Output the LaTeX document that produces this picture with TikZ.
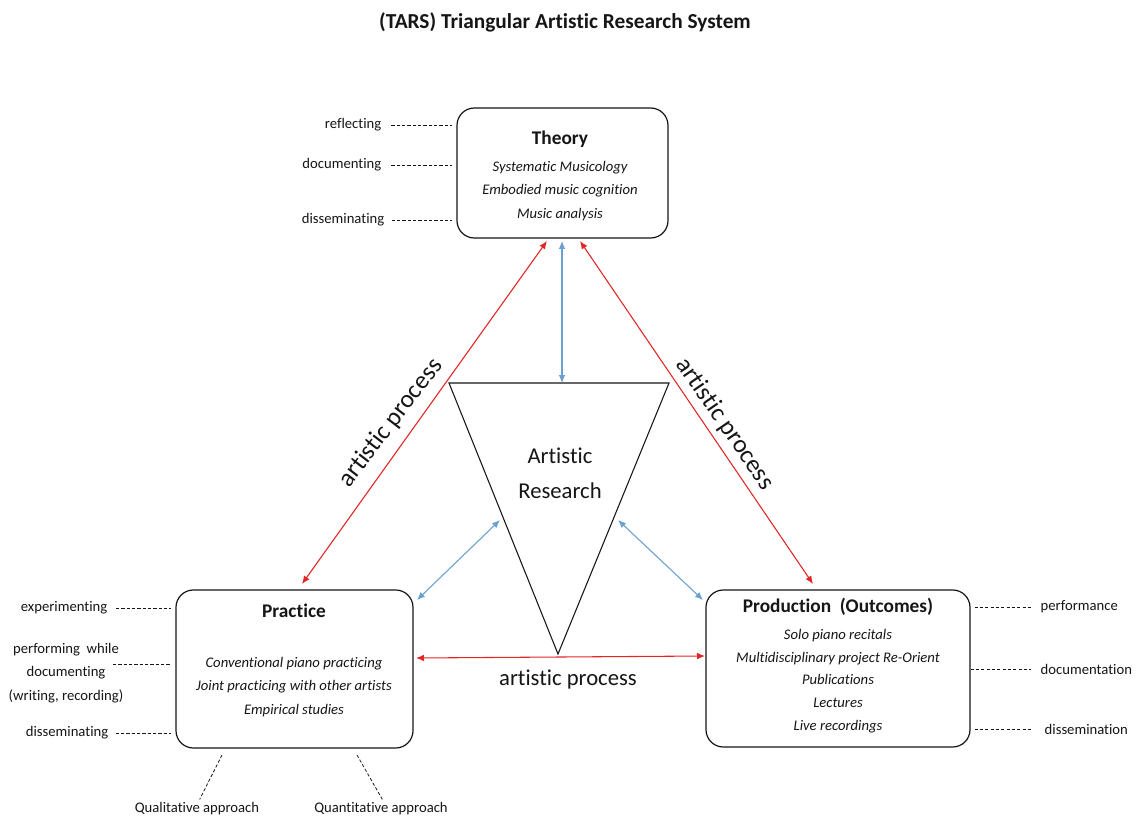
\documentclass[tikz,border=0pt]{standalone}
\usepackage{fontspec}
\setmainfont{Carlito}[Ligatures={NoCommon}]
\usetikzlibrary{arrows.meta}
\definecolor{procred}{RGB}{226,38,38}
\definecolor{linkblue}{RGB}{108,160,206}
\definecolor{inkgray}{RGB}{22,22,22}
\tikzset{
  boxnode/.style={draw=inkgray, line width=0.9pt, rounded corners=13pt, inner sep=0pt},
  headtext/.style={font=\fontsize{14.5}{17}\selectfont\bfseries, text=inkgray},
  itemtext/.style={font=\fontsize{11}{17.4}\selectfont\itshape, text=inkgray, align=center},
  sidetext/.style={font=\fontsize{11}{17.4}\selectfont, text=inkgray, align=center},
  dashline/.style={draw=inkgray, line width=0.6pt, dash pattern=on 2.4pt off 1.6pt},
  redarrow/.style={draw=procred, line width=0.8pt, {Latex[length=6pt,width=5pt]}-{Latex[length=6pt,width=5pt]}},
  bluearrow/.style={draw=linkblue, line width=0.8pt, {Latex[length=6pt,width=5pt]}-{Latex[length=6pt,width=5pt]}},
  proctext/.style={font=\fontsize{19}{22}\selectfont, text=inkgray},
}
\begin{document}
\begin{tikzpicture}[x=0.75pt,y=-0.75pt]
\useasboundingbox (0,0) rectangle (1136,820);
\fill[white] (0,0) rectangle (1136,820);

% title
\node[font=\fontsize{16}{18}\selectfont\bfseries, text=inkgray] (title) at (565,22) {(TARS) Triangular Artistic Research System};

% the three boxes
\node[boxnode, minimum width=158.25pt, minimum height=97.5pt] (theory) at (562.5,173) {};
\node[boxnode, minimum width=177.75pt, minimum height=118.5pt] (practice) at (294.5,669) {};
\node[boxnode, minimum width=198pt, minimum height=117.75pt] (production) at (838,668.5) {};

% box contents
\node[headtext] (theoryhead) at (560,139) {Theory};
\node[itemtext] (theoryitems) at (560,191) {Systematic Musicology\\Embodied music cognition\\Music analysis};
\node[headtext] (practicehead) at (294,611) {Practice};
\node[itemtext] (practiceitems) at (294,687) {Conventional piano practicing\\Joint practicing with other artists\\Empirical studies};
\node[headtext] (productionhead) at (838,607) {Production\ \ (Outcomes)};
\node[itemtext, font=\fontsize{11}{17}\selectfont\itshape] (productionitems) at (838,681) {Solo piano recitals\\Multidisciplinary project Re-Orient\\Publications\\Lectures\\Live recordings};

% central triangle
\coordinate (tl) at (449,383);
\coordinate (tr) at (669,383);
\coordinate (tb) at (558,654);
\draw[draw=inkgray, line width=0.8pt, line join=miter] (tl) -- (tr) -- (tb) -- cycle;
\node[font=\fontsize{17}{26}\selectfont, text=inkgray, align=center] (ar) at (560,473) {Artistic\\Research};
\coordinate (tt) at (562,383);

% arrow end points
\coordinate (thL) at (547,241);
\coordinate (thM) at (562,241);
\coordinate (thR) at (580,241);
\coordinate (prT) at (302,584);
\coordinate (poT) at (813,584);
\coordinate (trL) at (500,520);
\coordinate (trR) at (618,520);
\coordinate (prC) at (417,600);
\coordinate (poC) at (703,600);
\coordinate (prR) at (416,658);
\coordinate (poL) at (705,656);

% connectors
\draw[redarrow] (prT) -- (thL);
\draw[redarrow] (poT) -- (thR);
\draw[redarrow] (prR) -- (poL);
\draw[bluearrow] (thM) -- (tt);
\draw[bluearrow] (prC) -- (trL);
\draw[bluearrow] (poC) -- (trR);

% process labels
\node[proctext, rotate=52.5] (procL) at (391,423) {artistic process};
\node[proctext, rotate=-55.5] (procR) at (725,424) {artistic process};
\node[proctext, font=\fontsize{17}{20}\selectfont] (procB) at (568,680) {artistic process};

% theory side labels
\node[sidetext, anchor=east] (refl) at (386,125) {reflecting};
\node[sidetext, anchor=east] (docu) at (386,165) {documenting};
\node[sidetext, anchor=east] (dissT) at (389,220) {disseminating};
\draw[dashline] ([xshift=4pt]refl.east) -- ([xshift=-3pt]refl.east -| theory.west);
\draw[dashline] ([xshift=4pt]docu.east) -- ([xshift=-3pt]docu.east -| theory.west);
\draw[dashline] ([xshift=2pt]dissT.east) -- ([xshift=-3pt]dissT.east -| theory.west);

% practice side labels
\node[sidetext, anchor=east] (expe) at (112,608) {experimenting};
\node[sidetext] (perf) at (66,673) {performing\ \ while\\documenting\\(writing, recording)};
\node[sidetext, anchor=east] (dissP) at (113,733) {disseminating};
\coordinate (perfend) at (113,664);
\draw[dashline] ([xshift=3pt]expe.east) -- ([xshift=-3pt]expe.east -| practice.west);
\draw[dashline] (perfend) -- ([xshift=-3pt]perfend -| practice.west);
\draw[dashline] ([xshift=2pt]dissP.east) -- ([xshift=-3pt]dissP.east -| practice.west);

% approaches below practice
\node[sidetext] (qual) at (197,809) {Qualitative approach};
\node[sidetext] (quan) at (381,809) {Quantitative approach};
\coordinate (qualtop) at (222,755);
\coordinate (quantop) at (357,755);
\draw[dashline] (qualtop) -- ([shift={(2pt,-1pt)}]qual.north);
\draw[dashline] (quantop) -- ([shift={(1pt,-1pt)}]quan.north);

% production side labels
\node[sidetext, anchor=west] (perfo) at (1036,607) {performance};
\node[sidetext, anchor=west] (docn) at (1036,669) {documentation};
\node[sidetext, anchor=west] (dissn) at (1040,729) {dissemination};
\draw[dashline] ([xshift=3pt]perfo.west -| production.east) -- ([xshift=-4pt]perfo.west);
\draw[dashline] ([xshift=0pt]docn.west -| production.east) -- ([xshift=-4pt]docn.west);
\draw[dashline] ([xshift=3pt]dissn.west -| production.east) -- ([xshift=-6pt]dissn.west);
\end{tikzpicture}
\end{document}
